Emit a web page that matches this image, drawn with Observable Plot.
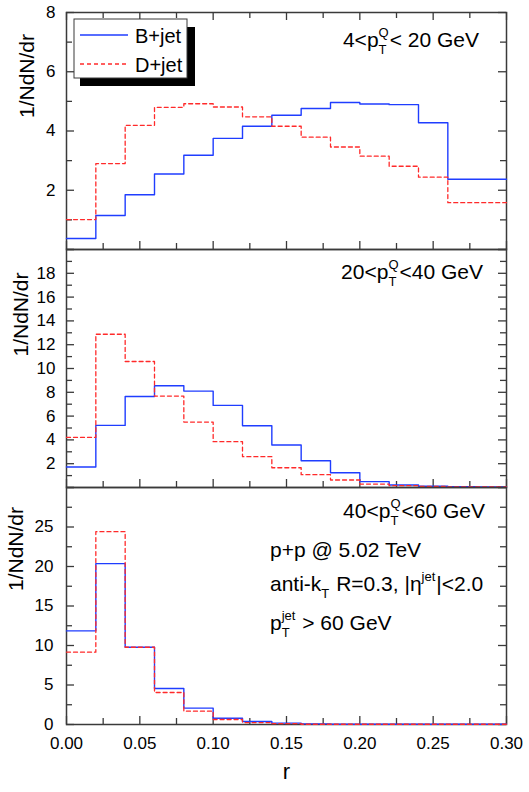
<!DOCTYPE html>
<html><head><meta charset="utf-8">
<script src="https://cdn.jsdelivr.net/npm/d3@7"></script>
<script src="https://cdn.jsdelivr.net/npm/@observablehq/plot@0.6"></script>
<style>
body{margin:0;background:#fff;font-family:"Liberation Sans",Arial,sans-serif;}
#chart{position:relative;width:529px;height:792px;overflow:hidden;background:#fff}
#chart svg{position:absolute;left:0;overflow:visible}
#chart svg text{white-space:pre}
</style></head><body><div id="chart"></div>
<script>
// ---- data ----
const edges = [0.00,0.02,0.04,0.06,0.08,0.10,0.12,0.14,0.16,0.18,0.20,0.22,0.24,0.26,0.28,0.30];
const series = ["B+jet", "D+jet"];
const seriesColors = ["#1f3dff", "#ff2a2a"];
// 4 < pT^Q < 20 GeV
const bLow = [0.37,1.15,1.85,2.55,3.18,3.75,4.16,4.53,4.76,4.96,4.91,4.89,4.28,2.37,2.37];
const dLow = [1.01,2.90,4.19,4.80,4.92,4.81,4.48,4.16,3.79,3.46,3.15,2.81,2.44,1.58,1.58];
// 20 < pT^Q < 40 GeV
const bMid = [1.72,5.22,7.65,8.55,8.10,6.90,5.19,3.57,2.25,1.24,0.49,0.21,0.10,0.07,0.05];
const dMid = [4.21,12.88,10.59,7.68,5.50,3.85,2.59,1.66,1.08,0.63,0.29,0.15,0.10,0.05,0.05];
// 40 < pT^Q < 60 GeV
const bHigh = [11.85,20.36,9.78,4.55,2.07,0.80,0.38,0.17,0.08,0.03,0.03,0.03,0.03,0.03,0.03];
const dHigh = [9.15,24.41,9.78,4.05,1.69,0.63,0.25,0.10,0.03,0.03,0.03,0.03,0.03,0.03,0.03];

const xLabelTicks = [0.00,0.05,0.10,0.15,0.20,0.25,0.30];
const xMinorTicks = [0.025,0.075,0.125,0.175,0.225,0.275];
const yLowLabels = [2,4,6,8];
const yLowMinor = [1,3,5,7];
const yMidLabels = [2,4,6,8,10,12,14,16,18];
const yMidMinor = [1,3,5,7,9,11,13,15,17,19];
const yHighLabels = [0,5,10,15,20,25];
const yHighMinor = [2.5,7.5,12.5,17.5,22.5,27.5];
const yTitle = "1/NdN/dr";
const xTitle = "r";

// ---- layout ----
const W = 529, ML = 66, MR = 23;
const innerW = W - ML - MR;
const FRAME = "#3a3a3a";

function steps(vals, s) {
  return edges.map((e, i) => ({r: e, v: vals[Math.min(i, vals.length - 1)], s}));
}

function panel(cfg) {
  const innerH = cfg.height - cfg.mt - cfg.mb;
  const data = [...steps(cfg.b, series[0]), ...steps(cfg.d, series[1])];
  const major = 8, minor = 6;
  const marks = [
    Plot.frame({stroke: FRAME, strokeWidth: 1.5}),
    Plot.ruleY(cfg.yMajor, {stroke: FRAME, strokeWidth: 1.3, insetRight: innerW - major}),
    Plot.ruleY(cfg.yMinor, {stroke: FRAME, strokeWidth: 1.3, insetRight: innerW - minor}),
    Plot.ruleY(cfg.yMajor, {stroke: FRAME, strokeWidth: 1.3, insetLeft: innerW - major}),
    Plot.ruleY(cfg.yMinor, {stroke: FRAME, strokeWidth: 1.3, insetLeft: innerW - minor}),
    Plot.ruleX(xLabelTicks, {stroke: FRAME, strokeWidth: 1.3, insetTop: innerH - major}),
    Plot.ruleX(xMinorTicks, {stroke: FRAME, strokeWidth: 1.3, insetTop: innerH - minor}),
  ];
  if (cfg.topTicks) {
    marks.push(Plot.ruleX(xLabelTicks, {stroke: FRAME, strokeWidth: 1.3, insetBottom: innerH - major}));
    marks.push(Plot.ruleX(xMinorTicks, {stroke: FRAME, strokeWidth: 1.3, insetBottom: innerH - minor}));
  }
  marks.push(
    Plot.line(data.filter(d => d.s === series[0]), {x: "r", y: "v", curve: "step-after", stroke: seriesColors[0], strokeWidth: 1.4}),
    Plot.line(data.filter(d => d.s === series[1]), {x: "r", y: "v", curve: "step-after", stroke: seriesColors[1], strokeWidth: 1.3, strokeDasharray: "4,3"}),
    Plot.axisY(cfg.yLabels, {tickSize: 0, tickPadding: cfg.tp, fontSize: 17, label: null, fill: "#000"}),
    Plot.text([yTitle], {frameAnchor: "left", rotate: -90, dx: cfg.ldx, dy: cfg.ldy, fontSize: 21, fill: "#000"})
  );
  if (cfg.xAxis) {
    marks.push(
      Plot.axisX(xLabelTicks, {tickSize: 0, tickPadding: 12, fontSize: 17, label: null, tickFormat: d3.format(".2f"), fill: "#000"}),
      Plot.text([xTitle], {frameAnchor: "bottom", dy: 54, fontSize: 22, fill: "#000"})
    );
  }
  const svg = Plot.plot({
    width: W, height: cfg.height,
    marginLeft: ML, marginRight: MR, marginTop: cfg.mt, marginBottom: cfg.mb,
    style: {background: "transparent", overflow: "visible", fontFamily: "Liberation Sans, Arial, sans-serif"},
    x: {domain: [0, 0.3], axis: cfg.xAxis ? undefined : null},
    y: {domain: cfg.yDomain},
    marks
  });
  svg.style.top = cfg.top + "px";
  return svg;
}

const chart = document.getElementById("chart");
chart.appendChild(panel({top: 0, height: 249, mt: 12, mb: 0, b: bLow, d: dLow, yDomain: [0, 8],
  yLabels: yLowLabels, yMajor: [0, ...yLowLabels], yMinor: yLowMinor, tp: 11, ldx: -39, ldy: -13, topTicks: true}));
chart.appendChild(panel({top: 249, height: 238, mt: 0, mb: 0, b: bMid, d: dMid, yDomain: [0, 20],
  yLabels: yMidLabels, yMajor: [0, ...yMidLabels, 20], yMinor: yMidMinor, tp: 11, ldx: -45, ldy: -12}));
chart.appendChild(panel({top: 487, height: 305, mt: 0, mb: 68, b: bHigh, d: dHigh, yDomain: [0, 30],
  yLabels: yHighLabels, yMajor: [...yHighLabels, 30], yMinor: yHighMinor, tp: 13, ldx: -50, ldy: -15, xAxis: true}));

// ---- overlay: legend and annotations ----
const NS = "http://www.w3.org/2000/svg";
const ov = document.createElementNS(NS, "svg");
ov.setAttribute("width", W); ov.setAttribute("height", 792);
ov.style.top = "0px";
ov.setAttribute("font-family", "Liberation Sans, Arial, sans-serif");
chart.appendChild(ov);

function el(parent, name, attrs, text) {
  const e = document.createElementNS(NS, name);
  for (const k in attrs) e.setAttribute(k, attrs[k]);
  if (text != null) e.textContent = text;
  parent.appendChild(e);
  return e;
}
const FS = 21, FSS = 13;
function addText(g, str, x, y, size) {
  const t = el(g, "text", {x, y, "font-size": size, fill: "#000"}, str);
  t.setAttributeNS("http://www.w3.org/XML/1998/namespace", "xml:space", "preserve");
  return t.getComputedTextLength();
}
function rich(parts, x, y, anchor) {
  const g = el(ov, "g", {});
  let cx = 0;
  for (const p of parts) {
    if (typeof p === "string") cx += addText(g, p, cx, 0, FS);
    else {
      let w = 0;
      if (p.sup) w = Math.max(w, addText(g, p.sup, cx, -10, FSS));
      if (p.sub) w = Math.max(w, addText(g, p.sub, cx, 7, FSS));
      cx += w + 1;
    }
  }
  const x0 = anchor === "end" ? x - cx : x;
  g.setAttribute("transform", `translate(${x0},${y})`);
}

// legend
el(ov, "rect", {x: 80, y: 27, width: 115, height: 59, fill: "#000"});
el(ov, "rect", {x: 74, y: 19, width: 113, height: 59, fill: "#fff", stroke: FRAME, "stroke-width": 1});
el(ov, "line", {x1: 80, x2: 128, y1: 35, y2: 35, stroke: seriesColors[0], "stroke-width": 1.4});
el(ov, "line", {x1: 80, x2: 128, y1: 64, y2: 64, stroke: seriesColors[1], "stroke-width": 1.3, "stroke-dasharray": "4,3"});
el(ov, "text", {x: 135, y: 43, "font-size": 20, fill: "#000"}, series[0]);
el(ov, "text", {x: 135, y: 72, "font-size": 20, fill: "#000"}, series[1]);

// annotations
rich(["4<p", {sup: "Q", sub: "T"}, "< 20 GeV"], 479, 47, "end");
rich(["20<p", {sup: "Q", sub: "T"}, "<40 GeV"], 483, 279, "end");
rich(["40<p", {sup: "Q", sub: "T"}, "<60 GeV"], 485, 518, "end");
rich(["p+p @ 5.02 TeV"], 270, 557);
rich(["anti-k", {sub: "T"}, " R=0.3, |η", {sup: "jet"}, "|<2.0"], 270, 591);
rich(["p", {sup: "jet", sub: "T"}, " > 60 GeV"], 270, 630);
</script></body></html>
